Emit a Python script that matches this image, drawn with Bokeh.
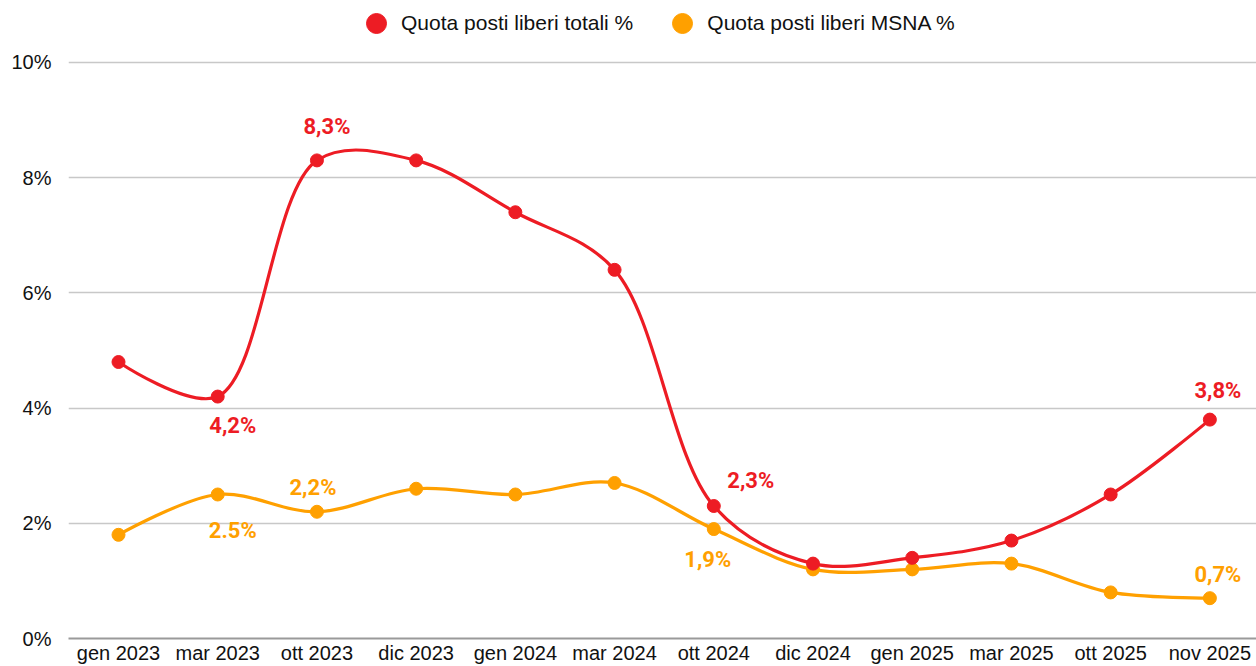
import numpy as np
from bokeh.plotting import figure
from bokeh.models import (Range1d, FixedTicker, PrintfTickFormatter, Legend,
                          LegendItem, ColumnDataSource)
from bokeh.core.properties import value
from bokeh.embed import file_html
from bokeh.resources import INLINE

# ---------------- data ----------------
months = ["gen 2023", "mar 2023", "ott 2023", "dic 2023", "gen 2024", "mar 2024",
          "ott 2024", "dic 2024", "gen 2025", "mar 2025", "ott 2025", "nov 2025"]
totali = [4.8, 4.2, 8.3, 8.3, 7.4, 6.4, 2.3, 1.3, 1.4, 1.7, 2.5, 3.8]
msna = [1.8, 2.5, 2.2, 2.6, 2.5, 2.7, 1.9, 1.2, 1.2, 1.3, 0.8, 0.7]
y_ticks = [0, 2, 4, 6, 8, 10]

tot_label_idx = [1, 2, 6, 11]
tot_label_txt = ["4,2%", "8,3%", "2,3%", "3,8%"]
msna_label_idx = [1, 2, 6, 11]
msna_label_txt = ["2.5%", "2,2%", "1,9%", "0,7%"]

series_names = ["Quota posti liberi totali %", "Quota posti liberi MSNA %"]

# ---------------- style ----------------
RED = "#ED1C24"
ORANGE = "#FFA000"
W, H = 1256, 666
X_PX = 99.2   # px per category step (smoothing geometry)
Y_PX = 57.6   # px per 1% (smoothing geometry)

tot_offsets = [(15, 29), (10, -34), (37, -26), (8, -29)]
msna_offsets = [(15, 36), (-4, -24), (-6, 30), (8, -24)]


def catmull_rom_segments(xs, ys, alpha=0.5):
    """Centripetal Catmull-Rom spline expressed as cubic bezier segments."""
    P = np.column_stack([np.asarray(xs, float) * X_PX, np.asarray(ys, float) * Y_PX])
    n = len(P)
    out = {k: [] for k in ("x0", "y0", "x1", "y1", "cx0", "cy0", "cx1", "cy1")}
    eps = 1e-12
    for i in range(n - 1):
        p1, p2 = P[i], P[i + 1]
        p0 = P[i - 1] if i > 0 else None
        p3 = P[i + 2] if i + 2 < n else None
        l12_2a = np.sum((p2 - p1) ** 2) ** alpha
        l12_a = np.sqrt(l12_2a)
        c1 = p1.copy()
        c2 = p2.copy()
        if p0 is not None:
            l01_2a = np.sum((p1 - p0) ** 2) ** alpha
            l01_a = np.sqrt(l01_2a)
            if l01_a > eps:
                a = 2 * l01_2a + 3 * l01_a * l12_a + l12_2a
                nn = 3 * l01_a * (l01_a + l12_a)
                c1 = (p1 * a - p0 * l12_2a + p2 * l01_2a) / nn
        if p3 is not None:
            l23_2a = np.sum((p3 - p2) ** 2) ** alpha
            l23_a = np.sqrt(l23_2a)
            if l23_a > eps:
                b = 2 * l23_2a + 3 * l23_a * l12_a + l12_2a
                m = 3 * l23_a * (l23_a + l12_a)
                c2 = (p2 * b + p1 * l23_2a - p3 * l12_2a) / m
        out["x0"].append(p1[0] / X_PX); out["y0"].append(p1[1] / Y_PX)
        out["x1"].append(p2[0] / X_PX); out["y1"].append(p2[1] / Y_PX)
        out["cx0"].append(c1[0] / X_PX); out["cy0"].append(c1[1] / Y_PX)
        out["cx1"].append(c2[0] / X_PX); out["cy1"].append(c2[1] / Y_PX)
    return out


x = np.arange(len(months))

p = figure(width=W, height=H, output_backend="svg", toolbar_location=None,
           x_range=Range1d(-0.504, 11.47), y_range=Range1d(0, 11.076),
           min_border_left=68, min_border_right=0, min_border_top=0,
           min_border_bottom=0)
p.outline_line_color = None
p.background_fill_color = "white"
p.border_fill_color = "white"

# axes
p.xaxis.ticker = FixedTicker(ticks=list(x))
p.xaxis.major_label_overrides = {int(i): m for i, m in zip(x, months)}
p.xaxis.major_tick_line_color = None
p.xaxis.minor_tick_line_color = None
p.xaxis.major_tick_out = 0
p.xaxis.major_tick_in = 0
p.xaxis.axis_line_color = "#9A9A9A"
p.xaxis.axis_line_width = 2
p.xaxis.major_label_standoff = 3
p.xaxis.major_label_text_font = "Liberation Sans"
p.xaxis.major_label_text_font_size = "20px"
p.xaxis.major_label_text_color = "#111111"

p.yaxis.ticker = FixedTicker(ticks=y_ticks)
p.yaxis.formatter = PrintfTickFormatter(format="%d%%")
p.yaxis.major_tick_line_color = None
p.yaxis.minor_tick_line_color = None
p.yaxis.major_tick_out = 0
p.yaxis.major_tick_in = 0
p.yaxis.axis_line_color = None
p.yaxis.major_label_standoff = 17
p.yaxis.major_label_text_font = "Liberation Sans"
p.yaxis.major_label_text_font_size = "20px"
p.yaxis.major_label_text_color = "#111111"

p.xgrid.grid_line_color = None
p.ygrid.ticker = FixedTicker(ticks=y_ticks[1:])
p.ygrid.grid_line_color = "#C8C8C8"
p.ygrid.grid_line_width = 1.5

# lines (smoothed) + points
renderers = []
for ys, color in ((msna, ORANGE), (totali, RED)):
    seg = ColumnDataSource(catmull_rom_segments(x, ys))
    p.bezier(x0="x0", y0="y0", x1="x1", y1="y1", cx0="cx0", cy0="cy0",
             cx1="cx1", cy1="cy1", source=seg, line_color=color, line_width=3.2)
    r = p.scatter(x, ys, size=13, fill_color=color, line_color=color)
    renderers.append(r)

# data labels
for idx, txt, offs, ys, color in (
        (tot_label_idx, tot_label_txt, tot_offsets, totali, RED),
        (msna_label_idx, msna_label_txt, msna_offsets, msna, ORANGE)):
    src = ColumnDataSource(dict(
        x=[x[i] for i in idx], y=[ys[i] for i in idx], t=txt,
        dx=[o[0] for o in offs], dy=[o[1] for o in offs]))
    p.text(x="x", y="y", text="t", x_offset="dx", y_offset="dy", source=src,
           text_align="center", text_baseline="middle",
           text_font=value("Roboto"), text_font_style="bold",
           text_font_size="22px", text_color=color)

legend = Legend(items=[LegendItem(label=series_names[0], renderers=[renderers[1]]),
                       LegendItem(label=series_names[1], renderers=[renderers[0]])],
                orientation="horizontal", location=(283, 590),
                glyph_width=50, glyph_height=50, label_standoff=-7, spacing=24,
                padding=0, margin=0, border_line_color=None,
                background_fill_alpha=0,
                label_text_font="Liberation Sans", label_text_font_size="21px",
                label_text_color="#111111")
p.add_layout(legend)

open("out.html", "w").write(file_html(p, INLINE))
